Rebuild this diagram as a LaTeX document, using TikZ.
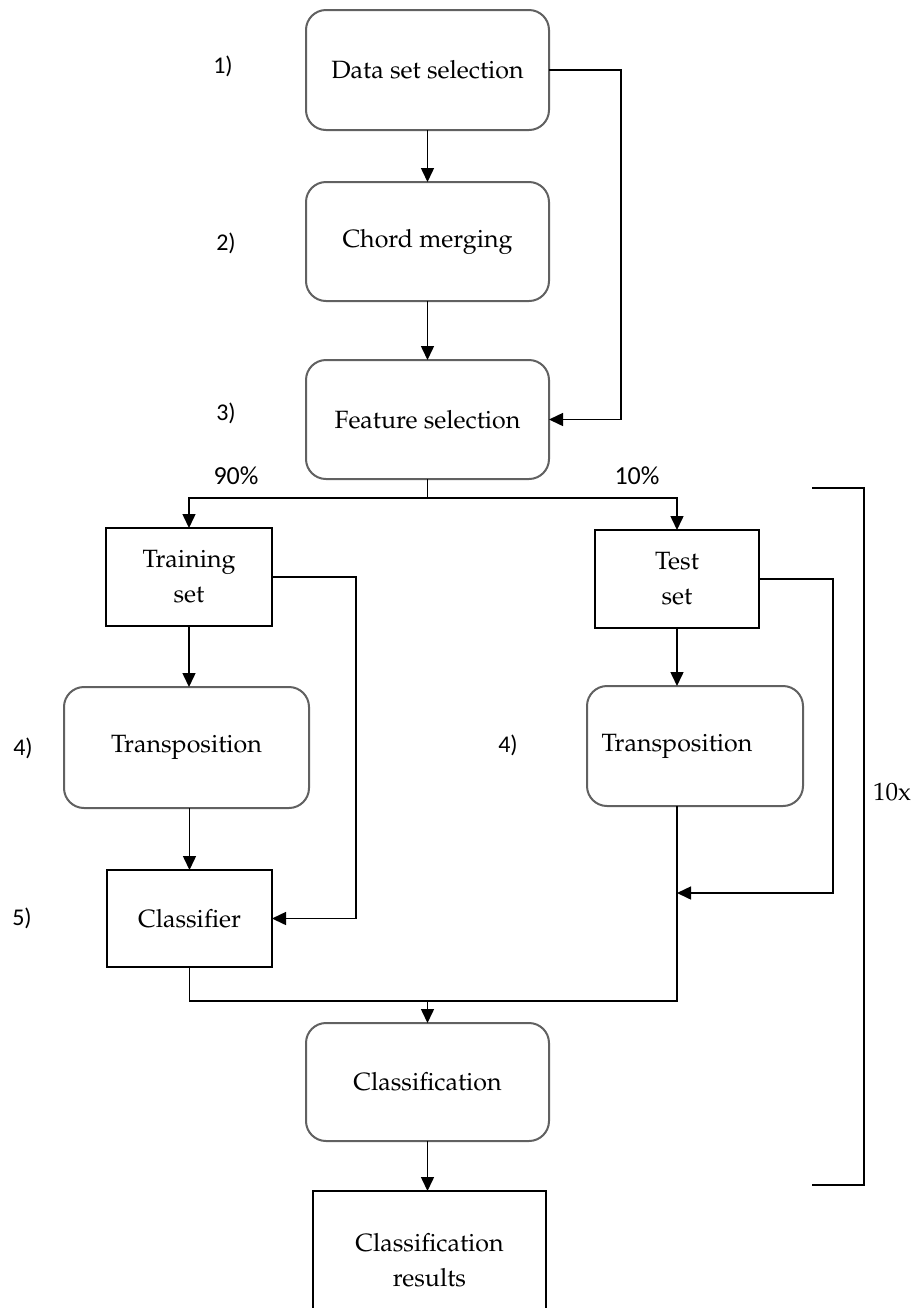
\documentclass[tikz,border=0pt]{standalone}
\usepackage{fontspec}
\usepackage[T1,TU]{fontenc}
\usetikzlibrary{arrows.meta}
\newfontfamily\carlito{Carlito}
\newcommand\palfont{\fontencoding{T1}\fontfamily{ppl}\selectfont}
\begin{document}
\begin{tikzpicture}[x=0.5pt,y=-0.5pt,
  every node/.style={inner sep=0pt, outer sep=0pt},
  rbox/.style={draw=black!62, line width=1pt, rounded corners=10pt,
    font=\palfont\fontsize{12.5}{17}\selectfont, align=center},
  sbox/.style={draw=black, line width=0.75pt,
    font=\palfont\fontsize{12.5}{17.5}\selectfont, align=center},
  steplabel/.style={font=\carlito\fontsize{12}{14}\selectfont},
  pct/.style={font=\carlito\fontsize{13}{15}\selectfont},
  conn/.style={draw=black, line width=0.75pt},
  arr/.style={conn, -{Triangle[width=6.5pt,length=7pt]}}
]
\clip (0,0) rectangle (914,1308);
\fill[white] (0,0) rectangle (914,1308);

% main column
\node[rbox, minimum width=121.5pt, minimum height=60pt]   (ds) at (427.5,70)   {Data set selection};
\node[rbox, minimum width=121.5pt, minimum height=59.5pt] (cm) at (427.5,241.5) {Chord merging};
\node[rbox, minimum width=121.5pt, minimum height=59.5pt] (fs) at (427.5,419.5) {Feature selection};

% training branch
\node[sbox, minimum width=83pt, minimum height=49pt]      (tr)  at (189,577)    {Training\\set};
\node[rbox, minimum width=122.5pt, minimum height=60.5pt] (tp1) at (186.5,747.5) {Transposition};
\node[sbox, minimum width=82.5pt, minimum height=48.5pt]  (cl)  at (189.5,918.5) {Classifier};

% test branch
\node[sbox, minimum width=82pt, minimum height=49pt]      (te)  at (677,579)    {Test\\set};
\node[rbox, minimum width=108pt, minimum height=60pt]     (tp2) at (695,746)    {\hspace*{-18pt}Transposition};

% output
\node[rbox, minimum width=121.5pt, minimum height=59pt]   (cn) at (427.5,1082)  {Classification};
\node[sbox, minimum width=116.5pt, minimum height=69pt]   (cr) at (429.5,1260)  {Classification\\results};

% step numbers
\node[steplabel] (l1)  at (223,66)  {1)};
\node[steplabel] (l2)  at (226,243) {2)};
\node[steplabel] (l3)  at (226,413) {3)};
\node[steplabel] (l4a) at (23,748)  {4)};
\node[steplabel] (l4b) at (508,745) {4)};
\node[steplabel] (l5)  at (22,918)  {5)};

% split ratios
\node[pct] (p90) at (236,476) {90\%};
\node[pct] (p10) at (637,476) {10\%};

% routing points
\coordinate (rt)  at (621,0);
\coordinate (sp)  at (427.5,498);
\coordinate (trr) at (356,0);
\coordinate (ter) at (833,0);
\coordinate (tj)  at (677,893);
\coordinate (mg)  at (427.5,1001);

% main column connectors
\draw[arr] (ds.south) -- (cm.north);
\draw[arr] (cm.south) -- (fs.north);
\draw[arr] (ds.east) -- (ds.east -| rt) -- (fs.east -| rt) -- (fs.east);

% split into training / test
\draw[conn] (fs.south) -- (sp);
\draw[arr] (sp) -| (tr.north);
\draw[arr] (sp) -| (te.north);

% training branch connectors
\draw[arr] (tr.south) -- (tr.south |- tp1.north);
\draw[arr] (cl.north |- tp1.south) -- (cl.north);
\draw[arr] (tr.east) -- (tr.east -| trr) -- (cl.east -| trr) -- (cl.east);

% test branch connectors
\draw[arr] (te.south) -- (te.south |- tp2.north);
\draw[arr] (te.east) -- (te.east -| ter) -- (tj -| ter) -- (tj);

% merge into classification
\draw[conn] (cl.south) |- (mg);
\draw[conn] (te.south |- tp2.south) |- (mg);
\draw[arr] (mg) -- (cn.north);
\draw[arr] (cn.south) -- (cn.south |- cr.north);

% repetition bracket
\coordinate (bt) at (812,488);
\coordinate (bb) at (812,1185);
\coordinate (bk) at (864,0);
\draw[conn] (bt) -- (bt -| bk) -- (bb -| bk) -- (bb);
\node[font=\palfont\fontsize{12.5}{15}\selectfont] (rep) at (892,792) {10x};
\end{tikzpicture}
\end{document}
